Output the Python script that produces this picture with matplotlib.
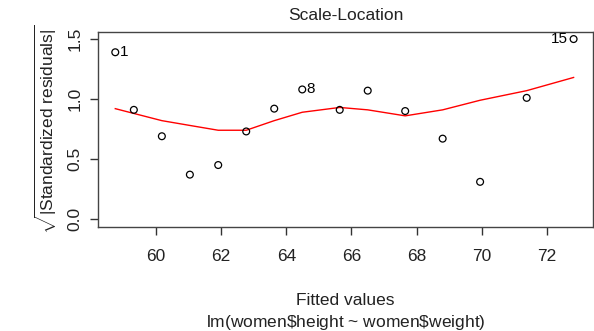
import matplotlib
matplotlib.use("Agg")
import matplotlib.pyplot as plt

plt.rcParams['font.family'] = ['Liberation Sans', 'DejaVu Sans']
plt.rcParams['mathtext.fontset'] = 'custom'
plt.rcParams['mathtext.rm'] = 'Liberation Sans'
plt.rcParams['mathtext.it'] = 'Liberation Sans:italic'

# fitted values and sqrt(|standardized residuals|)
fitted = [58.75, 59.32, 60.18, 61.04, 61.91, 62.77, 63.63, 64.49,
          65.64, 66.50, 67.65, 68.80, 69.95, 71.38, 72.82]
sqrt_std_resid = [1.39, 0.91, 0.69, 0.37, 0.45, 0.73, 0.92, 1.08,
                  0.91, 1.07, 0.90, 0.67, 0.31, 1.01, 1.50]
# smoother (red line)
smooth = [0.92, 0.88, 0.82, 0.78, 0.74, 0.74, 0.82, 0.89,
          0.93, 0.91, 0.86, 0.91, 0.99, 1.07, 1.18]
labels = {0: "1", 7: "8", 14: "15"}

x_ticks = [60, 62, 64, 66, 68, 70, 72]
y_ticks = [0.0, 0.5, 1.0, 1.5]

fs = 12.5
fig = plt.figure(figsize=(5.94, 3.31), dpi=100)
ax = fig.add_axes([0.165, 0.314, 0.833, 0.589])

ax.plot(fitted, smooth, color='red', linewidth=1)
ax.scatter(fitted, sqrt_std_resid, s=24, facecolors='none', edgecolors='black', linewidths=0.9, zorder=3)

for i, lab in labels.items():
    if i == 14:
        ax.annotate(lab, (fitted[i], sqrt_std_resid[i]), xytext=(-4, 0), textcoords='offset points',
                    ha='right', va='center', fontsize=11)
    else:
        ax.annotate(lab, (fitted[i], sqrt_std_resid[i]), xytext=(3, 0), textcoords='offset points',
                    ha='left', va='center', fontsize=11)

ax.set_xlim(58.22, 73.41)
ax.set_ylim(-0.067, 1.558)
ax.set_xticks(x_ticks)
ax.set_yticks(y_ticks)
ax.set_yticklabels([f"{v:.1f}" for v in y_ticks], rotation=90, va='center')
ax.tick_params(direction='out', length=6, width=1, labelsize=fs, colors='#333333', labelcolor='#222222')
ax.tick_params(axis='x', pad=10)
ax.tick_params(axis='y', pad=5)
for sp in ax.spines.values():
    sp.set_color('#444444')
    sp.set_linewidth(1)

ax.set_title("Scale-Location", fontsize=fs, color='#222222', pad=9)
ax.set_xlabel("Fitted values\nlm(women$\\$$height ~ women$\\$$weight)", fontsize=fs,
              color='#222222', labelpad=21, linespacing=1.3)
ax.set_ylabel(r"$\sqrt{|\mathrm{Standardized\ residuals}|}$", fontsize=fs, color='#222222', labelpad=6)

fig.savefig("out.png", dpi=100)
